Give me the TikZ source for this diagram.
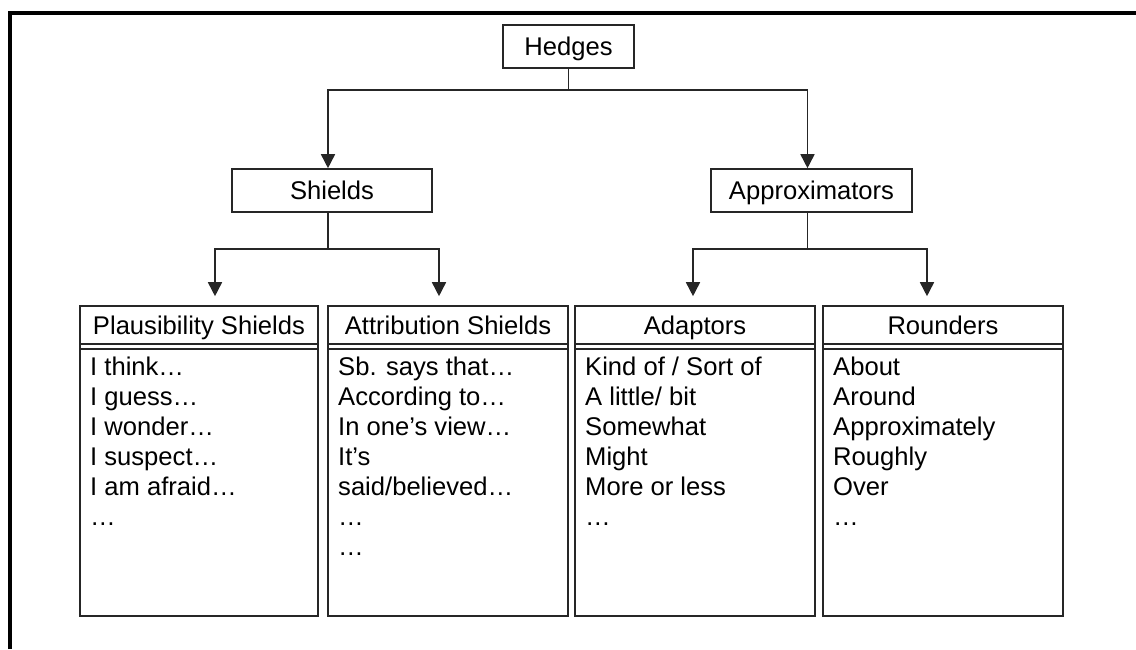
\documentclass[tikz,border=0pt]{standalone}
\usepackage{fontspec}
\setmainfont{Liberation Sans}
\usetikzlibrary{arrows.meta}

\tikzset{
  box/.style={rectangle, draw=black!85, line width=1.6pt, inner sep=0pt,
    text height=18.3pt, text depth=0pt},
  items/.style={align=left, anchor=north west, inner sep=0pt},
  conn/.style={draw=black!85, line width=1.6pt},
  arr/.style={conn, -{Triangle[length=14pt,width=14pt]}},
}

\begin{document}
\begin{tikzpicture}[x=1pt, y=-1pt, font=\fontsize{25.6}{30}\selectfont]

  \useasboundingbox (0,0) rectangle (1136,649);
  \draw[line width=4pt, line join=miter] (10,649) -- (10,13) -- (1136,13);

  % top levels
  \node[box, minimum width=131, minimum height=43] (hedges) at (568.5,46.5) {Hedges};
  \node[box, minimum width=200, minimum height=43] (shields) at (332,190.5) {Shields};
  \node[box, minimum width=201, minimum height=43] (approx) at (811.5,190.5) {Approximators};

  % lower boxes
  \node[box, minimum width=238, minimum height=310] (plaus) at (199,461) {};
  \node[box, minimum width=240, minimum height=310] (attr)  at (448,461) {};
  \node[box, minimum width=240, minimum height=310] (adapt) at (695,461) {};
  \node[box, minimum width=240, minimum height=310] (round) at (943,461) {};

  \node[box, minimum width=238, minimum height=38.2] (plaush) at (199,325.1) {Plausibility Shields};
  \node[box, minimum width=240, minimum height=38.2] (attrh)  at (448,325.1) {Attribution Shields};
  \node[box, minimum width=240, minimum height=38.2] (adapth) at (695,325.1) {Adaptors};
  \node[box, minimum width=240, minimum height=38.2] (roundh) at (943,325.1) {Rounders};

  \draw[conn] ([yshift=-4pt]plaush.south west) -- ([yshift=-4pt]plaush.south east);
  \draw[conn] ([yshift=-4pt]attrh.south west) -- ([yshift=-4pt]attrh.south east);
  \draw[conn] ([yshift=-4pt]adapth.south west) -- ([yshift=-4pt]adapth.south east);
  \draw[conn] ([yshift=-4pt]roundh.south west) -- ([yshift=-4pt]roundh.south east);

  \node[items] (plaust) at (90,356.7) {I think…\\I guess…\\I wonder…\\I suspect…\\I am afraid…\\…};
  \node[items] (attrt)  at (338,356.7) {Sb. says that…\\According to…\\In one’s view…\\It’s\\said/believed…\\…\\…};
  \node[items] (adaptt) at (585,356.7) {Kind of / Sort of\\A little/ bit\\Somewhat\\Might\\More or less\\…};
  \node[items] (roundt) at (833,356.7) {About\\Around\\Approximately\\Roughly\\Over\\…};

  % connectors
  \draw[conn] (hedges.south) -- ++(0,21) coordinate (hj);
  \draw[arr] (hj) -| ([xshift=-4pt]shields.north);
  \draw[arr] (hj) -| ([xshift=-4pt]approx.north);

  \draw[conn] ([xshift=-4pt]shields.south) -- ++(0,36) coordinate (sj);
  \draw[arr, shorten >=9pt] (sj) -| ([xshift=16pt]plaus.north);
  \draw[arr, shorten >=9pt] (sj) -| ([xshift=-9pt]attr.north);

  \draw[conn] ([xshift=-4pt]approx.south) -- ++(0,36) coordinate (aj);
  \draw[arr, shorten >=9pt] (aj) -| ([xshift=-2pt]adapt.north);
  \draw[arr, shorten >=9pt] (aj) -| ([xshift=-16pt]round.north);

\end{tikzpicture}
\end{document}
